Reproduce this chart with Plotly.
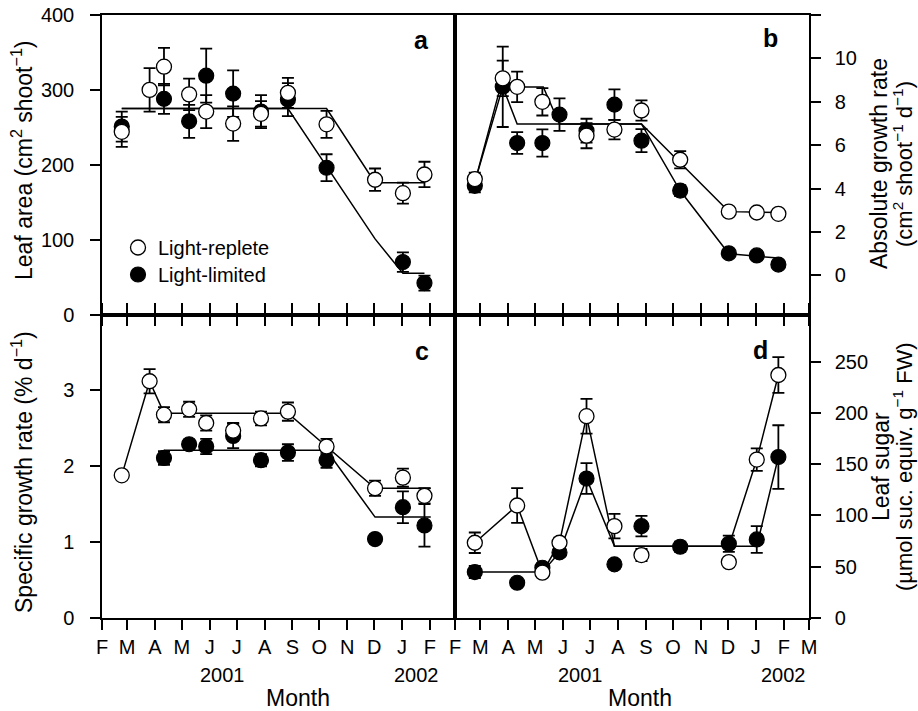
import plotly.graph_objects as go

# ---------------- data ----------------
DATES = ["2001-02-23", "2001-03-26", "2001-04-11", "2001-05-09", "2001-05-28", "2001-06-27",
         "2001-07-28", "2001-08-27", "2001-10-09", "2001-12-02", "2002-01-02", "2002-01-26"]

# panel a: leaf area (cm2 shoot-1)
A_REPLETE = [244, 300, 331, 294, 271, 255, 268, 296, 254, 180, 162, 187]
A_REPLETE_ERR = [20, 29, 25, 21, 22, 23, 17, 20, 18, 15, 14, 17]
A_LIMITED = [251, None, 288, 258, 319, 295, 271, 287, 196, None, 70, 42]
A_LIMITED_ERR = [20, 0, 20, 22, 36, 31, 22, 22, 18, 0, 13, 10]
A_FIT_R_X = ["2001-02-23", "2001-10-09", "2001-12-02", "2002-01-26"]
A_FIT_R_Y = [275, 275, 176, 176]
A_FIT_L_X = ["2001-02-23", "2001-08-27", "2001-12-02", "2002-01-02", "2002-01-26"]
A_FIT_L_Y = [275, 275, 101, 55, 55]

# panel b: absolute growth rate (cm2 shoot-1 d-1)
B_REPLETE = [4.44, 9.08, 8.69, 8.0, None, 6.44, 6.72, 7.60, 5.33, 2.94, 2.90, 2.84]
B_REPLETE_ERR = [0.3, 0.82, 0.7, 0.63, 0, 0.58, 0.45, 0.47, 0.4, 0.12, 0.12, 0.1]
B_LIMITED = [4.13, 8.69, 6.10, 6.10, 7.41, 6.67, 7.87, 6.21, 3.91, 1.02, 0.92, 0.50]
B_LIMITED_ERR = [0.3, 1.85, 0.5, 0.63, 0.75, 0.55, 0.7, 0.53, 0.25, 0.1, 0.1, 0.1]
B_FIT_R_X = ["2001-02-23", "2001-03-26", "2001-04-11", "2001-05-10", "2001-05-28",
             "2001-08-27", "2001-12-02", "2002-01-26"]
B_FIT_R_Y = [4.3, 9.08, 8.68, 8.68, 6.98, 6.98, 2.94, 2.90]
B_FIT_L_X = ["2001-02-23", "2001-03-26", "2001-04-11", "2001-08-27", "2001-10-09",
             "2001-12-02", "2002-01-26"]
B_FIT_L_Y = [4.3, 8.69, 6.98, 6.98, 3.9, 1.0, 0.8]

# panel c: specific growth rate (% d-1)
C_REPLETE = [1.88, 3.12, 2.68, 2.75, 2.57, 2.47, 2.63, 2.72, 2.26, 1.71, 1.85, 1.61]
C_REPLETE_ERR = [0.03, 0.16, 0.1, 0.1, 0.1, 0.1, 0.09, 0.12, 0.1, 0.1, 0.12, 0.1]
C_LIMITED = [None, None, 2.11, 2.29, 2.26, 2.40, 2.08, 2.18, 2.08, 1.04, 1.46, 1.22]
C_LIMITED_ERR = [0, 0, 0.09, 0.06, 0.1, 0.16, 0.08, 0.11, 0.1, 0.05, 0.21, 0.28]
C_FIT_R_X = ["2001-02-23", "2001-03-26", "2001-04-11", "2001-08-27", "2001-12-02", "2002-02-02"]
C_FIT_R_Y = [1.88, 3.12, 2.70, 2.70, 1.71, 1.71]
C_FIT_L_X = ["2001-04-11", "2001-10-09", "2001-12-02", "2002-02-02"]
C_FIT_L_Y = [2.21, 2.21, 1.33, 1.33]

# panel d: leaf sugar (umol suc. equiv. g-1 FW)
D_REPLETE = [73.4, None, 109.7, 44.2, 73.4, 196.8, 89.6, 61.4, None, 54.5, 154.5, 237]
D_REPLETE_ERR = [10, 0, 17, 4, 5, 17, 12, 6, 0, 3, 11, 17.5]
D_LIMITED = [44.8, None, 34.4, 49, 64, 136, 52.3, 89.6, 69.5, 72.4, 76.6, 157]
D_LIMITED_ERR = [6, 0, 3, 4, 4, 15, 4, 10, 5, 8, 13, 31]
D_FIT_R_X = ["2001-02-23", "2001-04-11", "2001-05-09", "2001-05-28", "2001-06-27",
             "2001-07-28", "2001-12-02", "2002-01-02", "2002-01-26"]
D_FIT_R_Y = [73.4, 109.7, 44.2, 73.4, 196.8, 70, 70, 154.5, 237]
D_FIT_L_X = ["2001-02-23", "2001-05-09", "2001-05-28", "2001-06-27", "2001-07-28",
             "2002-01-02", "2002-01-26"]
D_FIT_L_Y = [44.8, 44.8, 64, 136, 70, 70, 157]

MONTH_TICKS = ["2001-02-01", "2001-03-01", "2001-04-01", "2001-05-01", "2001-06-01",
               "2001-07-01", "2001-08-01", "2001-09-01", "2001-10-01", "2001-11-01",
               "2001-12-01", "2002-01-01", "2002-02-01", "2002-03-01"]
MONTH_LABELS = ["F", "M", "A", "M", "J", "J", "A", "S", "O", "N", "D", "J", "F", "M"]
X_RANGE = ["2001-02-01", "2002-03-01"]

# ---------------- geometry helpers ----------------
W, H = 918, 711
ML, MT, MR, MB = 102, 15, 918 - 809, 711 - 618
PW, PH = W - ML - MR, H - MT - MB
XS = (455 - ML) / PW
YS = (618 - 314.5) / PH


def px(sx):
    return (sx - ML) / PW


def py(sy):
    return (H - MB - sy) / PH


FONT = "Liberation Sans, Arial, Helvetica, sans-serif"
LW = 1.5

fig = go.Figure()

panels = [
    ("x", "y", A_REPLETE, A_REPLETE_ERR, A_LIMITED, A_LIMITED_ERR, A_FIT_R_X, A_FIT_R_Y, A_FIT_L_X, A_FIT_L_Y, True),
    ("x2", "y2", B_REPLETE, B_REPLETE_ERR, B_LIMITED, B_LIMITED_ERR, B_FIT_R_X, B_FIT_R_Y, B_FIT_L_X, B_FIT_L_Y, False),
    ("x3", "y3", C_REPLETE, C_REPLETE_ERR, C_LIMITED, C_LIMITED_ERR, C_FIT_R_X, C_FIT_R_Y, C_FIT_L_X, C_FIT_L_Y, False),
    ("x4", "y4", D_REPLETE, D_REPLETE_ERR, D_LIMITED, D_LIMITED_ERR, D_FIT_R_X, D_FIT_R_Y, D_FIT_L_X, D_FIT_L_Y, False),
]

for xa, ya, rv, re, lv, le, frx, fry, flx, fly, leg in panels:
    fig.add_trace(go.Scatter(x=frx, y=fry, mode="lines", xaxis=xa, yaxis=ya,
                             line=dict(color="black", width=LW), showlegend=False, hoverinfo="skip"))
    fig.add_trace(go.Scatter(x=flx, y=fly, mode="lines", xaxis=xa, yaxis=ya,
                             line=dict(color="black", width=LW), showlegend=False, hoverinfo="skip"))
    fig.add_trace(go.Scatter(x=DATES, y=lv, mode="markers", xaxis=xa, yaxis=ya,
                             name="Light-limited", showlegend=leg, legend="legend2",
                             marker=dict(size=15, color="black", line=dict(color="black", width=1.2)),
                             error_y=dict(type="data", array=le, visible=True, color="black",
                                          thickness=1.8, width=6)))
    fig.add_trace(go.Scatter(x=DATES, y=rv, mode="markers", xaxis=xa, yaxis=ya,
                             name="Light-replete", showlegend=leg, legend="legend",
                             marker=dict(size=15, color="white", line=dict(color="black", width=1.3)),
                             error_y=dict(type="data", array=re, visible=True, color="black",
                                          thickness=1.8, width=6)))

TICKFONT = dict(family=FONT, size=20, color="black")
base = dict(showline=True, linecolor="black", linewidth=LW, tickcolor="black", tickwidth=LW,
            ticklen=10, showgrid=False, zeroline=False, tickfont=TICKFONT, automargin=False,
            ticklabeloverflow="allow")
xbase = dict(base, type="date", range=X_RANGE)

left_ticks = dict(tickvals=MONTH_TICKS[:13], ticktext=MONTH_LABELS[:13])
right_ticks = dict(tickvals=MONTH_TICKS, ticktext=MONTH_LABELS)

layout_axes = dict(
    xaxis=dict(xbase, **left_ticks, domain=[0, XS], anchor="y", ticks="outside",
               showticklabels=False, mirror=True),
    xaxis2=dict(xbase, **right_ticks, domain=[XS, 1], anchor="y2", ticks="outside",
                showticklabels=False, mirror=True),
    xaxis3=dict(xbase, **left_ticks, domain=[0, XS], anchor="y3", ticks="outside",
                showticklabels=True, mirror="ticks", ticklabelstandoff=0),
    xaxis4=dict(xbase, **right_ticks, domain=[XS, 1], anchor="y4", ticks="outside",
                showticklabels=True, mirror="ticks", ticklabelstandoff=0),
    xaxis5=dict(xbase, **left_ticks, overlaying="x3", anchor="y3", ticks="inside",
                showticklabels=False, showline=False),
    xaxis6=dict(xbase, **right_ticks, overlaying="x4", anchor="y4", ticks="inside",
                showticklabels=False, showline=False),
    yaxis=dict(base, domain=[YS, 1], anchor="x", range=[0, 400], tickvals=[0, 100, 200, 300, 400],
               ticks="outside", side="left", mirror=True, ticklabelstandoff=12),
    yaxis2=dict(base, domain=[YS, 1], anchor="x2", range=[-1.8, 12],
                tickvals=[0, 2, 4, 6, 8, 10, 12], ticktext=["0", "2", "4", "6", "8", "10", ""],
                ticks="outside", side="right", mirror=True, ticklabelstandoff=10),
    yaxis3=dict(base, domain=[0, YS], anchor="x3", range=[0, 4], tickvals=[0, 1, 2, 3],
                ticks="outside", side="left", mirror=True, ticklabelstandoff=12),
    yaxis4=dict(base, domain=[0, YS], anchor="x4", range=[0, 296],
                tickvals=[0, 50, 100, 150, 200, 250],
                ticks="outside", side="right", mirror=True, ticklabelstandoff=10),
    yaxis5=dict(base, overlaying="y", anchor="x", range=[0, 400], tickvals=[0, 100, 200, 300, 400],
                ticks="inside", side="left", showticklabels=False, showline=False),
    yaxis6=dict(base, overlaying="y2", anchor="x2", range=[-1.8, 12], tickvals=[0, 2, 4, 6, 8, 10, 12],
                ticks="inside", side="right", showticklabels=False, showline=False),
    yaxis7=dict(base, overlaying="y3", anchor="x3", range=[0, 4], tickvals=[0, 1, 2, 3],
                ticks="inside", side="left", showticklabels=False, showline=False),
    yaxis8=dict(base, overlaying="y4", anchor="x4", range=[0, 296], tickvals=[0, 50, 100, 150, 200, 250],
                ticks="inside", side="right", showticklabels=False, showline=False),
)

TITLE_SIZE = 23
ann = []


def add_text(text, x, y, size=TITLE_SIZE, angle=0, bold=False):
    ann.append(dict(text=f"<b>{text}</b>" if bold else text, x=px(x), y=py(y), xref="paper", yref="paper",
                    showarrow=False, textangle=angle, xanchor="center", yanchor="middle",
                    font=dict(family=FONT, size=size, color="black")))


# panel letters
add_text("a", 421, 40, 25, bold=True)
add_text("b", 770, 38, 25, bold=True)
add_text("c", 422, 351, 25, bold=True)
add_text("d", 760, 350, 25, bold=True)
# years and x titles
for xpos, yr in [(222, "2001"), (416, "2002"), (580, "2001"), (783, "2002")]:
    add_text(yr, xpos, 675, 20)
add_text("Month", 298, 698)
add_text("Month", 640, 698)
# y titles
add_text("Leaf area (cm<sup>2</sup> shoot<sup>−1</sup>)", 22, 160, angle=-90)
add_text("Specific growth rate (% d<sup>−1</sup>)", 22, 472, angle=-90)
add_text("Absolute growth rate", 879, 164, angle=-90)
add_text("(cm<sup>2</sup> shoot<sup>−1</sup> d<sup>−1</sup>)", 903, 164, size=22, angle=-90)
add_text("Leaf sugar", 881, 467, angle=-90)
add_text("(µmol suc. equiv. g<sup>−1</sup> FW)", 903, 467, size=22, angle=-90)

LEGFONT = dict(family=FONT, size=20, color="black")
fig.update_layout(
    width=W, height=H,
    margin=dict(l=ML, r=MR, t=MT, b=MB, autoexpand=False),
    paper_bgcolor="white", plot_bgcolor="white",
    font=dict(family=FONT, size=20, color="black"),
    showlegend=True,
    legend=dict(x=px(118), y=py(228), xanchor="left", yanchor="top", bgcolor="rgba(0,0,0,0)",
                font=LEGFONT, itemwidth=30),
    legend2=dict(x=px(118), y=py(255), xanchor="left", yanchor="top", bgcolor="rgba(0,0,0,0)",
                 font=LEGFONT, itemwidth=30),
    annotations=ann,
    **layout_axes,
)

fig.write_html("out.html", config={"displayModeBar": False},
               post_script="document.body.style.margin='0';")
